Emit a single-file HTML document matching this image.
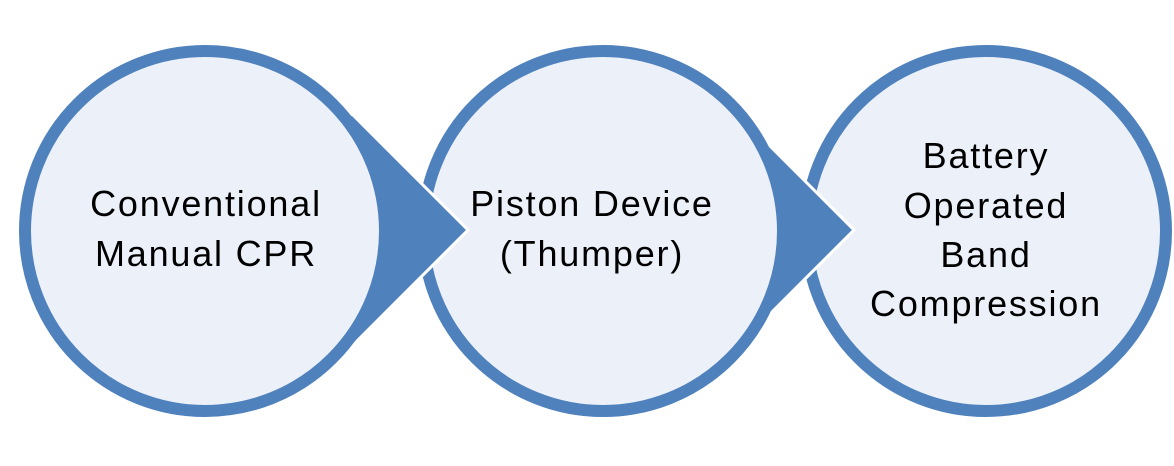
<!DOCTYPE html>
<html><head><style>
html,body{margin:0;padding:0;background:#fff;}
svg{display:block;}
text{font-family:"Liberation Sans",sans-serif;font-size:36px;letter-spacing:1.8px;fill:#000;text-anchor:middle;}
</style></head><body>
<svg width="1174" height="466" viewBox="0 0 1174 466" xmlns="http://www.w3.org/2000/svg">
<circle cx="986" cy="231" r="180" fill="#ecf1f9" stroke="#4f81bd" stroke-width="12"/>
<polygon points="854,230 736,112 736,348" fill="#4f81bd" stroke="#fff" stroke-width="3" stroke-linejoin="miter"/>
<circle cx="603" cy="231" r="180" fill="#ecf1f9" stroke="#4f81bd" stroke-width="12"/>
<polygon points="468,230 350,112 350,348" fill="#4f81bd" stroke="#fff" stroke-width="3" stroke-linejoin="miter"/>
<circle cx="205" cy="231" r="180" fill="#ecf1f9" stroke="#4f81bd" stroke-width="12"/>
<text x="206" y="216">Conventional</text>
<text x="206" y="266">Manual CPR</text>
<text x="592" y="216">Piston Device</text>
<text x="592" y="266">(Thumper)</text>
<text x="986" y="168">Battery</text>
<text x="986" y="218">Operated</text>
<text x="986" y="267">Band</text>
<text x="986" y="316">Compression</text>
</svg>
</body></html>
